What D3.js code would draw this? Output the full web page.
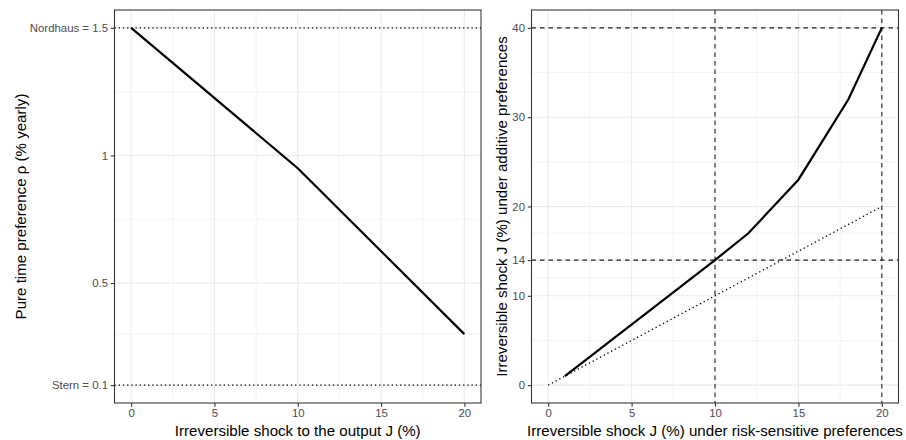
<!DOCTYPE html>
<html>
<head>
<meta charset="utf-8">
<script src="https://cdn.jsdelivr.net/npm/d3@7"></script>
<style>
  html, body { margin: 0; padding: 0; background: #fff; }
  svg { display: block; font-family: "Liberation Sans", Arial, sans-serif; }
</style>
</head>
<body>
<svg id="chart" width="906" height="440"></svg>
<script>
// Left panel: pure time preference vs irreversible shock
const shockJ = [0, 10, 20];
const rhoYearly = [1.5, 0.95, 0.3];
const rhoRefs = [{ v: 1.5, name: "Nordhaus" }, { v: 0.1, name: "Stern" }];
const leftXTicks = [0, 5, 10, 15, 20];
const leftYTicks = [0.1, 0.5, 1, 1.5];
const leftYLabels = ["Stern = 0.1", "0.5", "1", "Nordhaus = 1.5"];
const leftYMinor = [0.3, 0.75, 1.25];

// Right panel: equivalent shock under additive vs risk-sensitive preferences
const riskShock = [1, 10, 12, 15, 18, 20];
const additiveShock = [1, 14, 17, 23, 32, 40];
const diagonal = [0, 20];
const rightVLines = [10, 20];
const rightHLines = [14, 40];
const rightXTicks = [0, 5, 10, 15, 20];
const rightYTicks = [0, 10, 14, 20, 30, 40];
const rightYMinor = [5, 12, 17, 25, 35];
const xMinor = [2.5, 7.5, 12.5, 17.5];

const svg = d3.select("#chart");
const GRID = "#EBEBEB", BORDER = "#333333", TICKTXT = "#4D4D4D";
const TICK_FS = "11.4px", TITLE_FS = "15.1px";

function panel(opts) {
  const { x, y, xTicks, yTicks, yLabels, yMinor, xTitle, yTitle, yTitleX } = opts;
  const [x0, x1] = x.range();
  const [y1, y0] = y.range();
  const g = svg.append("g");

  // grid
  g.selectAll(".gxm").data(xMinor).join("line")
    .attr("x1", d => x(d)).attr("x2", d => x(d)).attr("y1", y0).attr("y2", y1)
    .attr("stroke", GRID).attr("stroke-width", 0.55);
  g.selectAll(".gym").data(yMinor).join("line")
    .attr("y1", d => y(d)).attr("y2", d => y(d)).attr("x1", x0).attr("x2", x1)
    .attr("stroke", GRID).attr("stroke-width", 0.55);
  g.selectAll(".gx").data(xTicks).join("line")
    .attr("x1", d => x(d)).attr("x2", d => x(d)).attr("y1", y0).attr("y2", y1)
    .attr("stroke", GRID).attr("stroke-width", 1.07);
  g.selectAll(".gy").data(yTicks).join("line")
    .attr("y1", d => y(d)).attr("y2", d => y(d)).attr("x1", x0).attr("x2", x1)
    .attr("stroke", GRID).attr("stroke-width", 1.07);

  // axes
  const ax = d3.axisBottom(x).tickValues(xTicks).tickSize(3.7).tickPadding(2.6);
  const ay = d3.axisLeft(y).tickValues(yTicks).tickSize(3.7).tickPadding(2.8)
    .tickFormat((d, i) => yLabels ? yLabels[i] : d);
  const gx = svg.append("g").attr("transform", `translate(0,${y1})`).call(ax);
  const gy = svg.append("g").attr("transform", `translate(${x0},0)`).call(ay);
  [gx, gy].forEach(a => {
    a.select(".domain").remove();
    a.selectAll(".tick line").attr("stroke", BORDER).attr("stroke-width", 1.07);
    a.selectAll(".tick text").attr("fill", TICKTXT).style("font-size", TICK_FS)
      .style("font-family", "Liberation Sans, Arial, sans-serif");
  });

  // titles
  svg.append("text").attr("x", (x0 + x1) / 2).attr("y", 436)
    .attr("text-anchor", "middle").style("font-size", TITLE_FS).attr("fill", "#000")
    .text(xTitle);
  svg.append("text").attr("transform", `translate(${yTitleX},${(y0 + y1) / 2}) rotate(-90)`)
    .attr("text-anchor", "middle").style("font-size", TITLE_FS).attr("fill", "#000")
    .text(yTitle);

  return { g, x0, x1, y0, y1 };
}

// ---- left panel ----
const xL = d3.scaleLinear().domain([-1, 21]).range([114.5, 481]);
const yL = d3.scaleLinear().domain([0.03, 1.57]).range([403, 10]);
const pL = panel({
  x: xL, y: yL, xTicks: leftXTicks, yTicks: leftYTicks, yLabels: leftYLabels,
  yMinor: leftYMinor, xTitle: "Irreversible shock to the output J (%)",
  yTitle: "Pure time preference \u03c1 (% yearly)", yTitleX: 26
});
pL.g.selectAll(".ref").data(rhoRefs).join("line")
  .attr("x1", pL.x0).attr("x2", pL.x1).attr("y1", d => yL(d.v)).attr("y2", d => yL(d.v))
  .attr("stroke", "#000").attr("stroke-width", 1.3).attr("stroke-dasharray", "1.3,2.9");
pL.g.append("path")
  .datum(shockJ.map((j, i) => [j, rhoYearly[i]]))
  .attr("d", d3.line().x(d => xL(d[0])).y(d => yL(d[1])))
  .attr("fill", "none").attr("stroke", "#000").attr("stroke-width", 2.2);
pL.g.append("rect").attr("x", pL.x0).attr("y", pL.y0)
  .attr("width", pL.x1 - pL.x0).attr("height", pL.y1 - pL.y0)
  .attr("fill", "none").attr("stroke", BORDER).attr("stroke-width", 1.07);

// ---- right panel ----
const xR = d3.scaleLinear().domain([-1, 21]).range([531.5, 898.5]);
const yR = d3.scaleLinear().domain([-2, 42]).range([403, 10]);
const pR = panel({
  x: xR, y: yR, xTicks: rightXTicks, yTicks: rightYTicks, yLabels: null,
  yMinor: rightYMinor, xTitle: "Irreversible shock J (%) under risk-sensitive preferences",
  yTitle: "Irreversible shock J (%) under additive preferences", yTitleX: 507
});
pR.g.append("path")
  .datum(diagonal.map(v => [v, v]))
  .attr("d", d3.line().x(d => xR(d[0])).y(d => yR(d[1])))
  .attr("fill", "none").attr("stroke", "#000").attr("stroke-width", 1.3)
  .attr("stroke-dasharray", "1.3,2.9");
pR.g.selectAll(".vl").data(rightVLines).join("line")
  .attr("x1", d => xR(d)).attr("x2", d => xR(d)).attr("y1", pR.y0).attr("y2", pR.y1)
  .attr("stroke", "#222").attr("stroke-width", 1.1).attr("stroke-dasharray", "4.5,4");
pR.g.selectAll(".hl").data(rightHLines).join("line")
  .attr("y1", d => yR(d)).attr("y2", d => yR(d)).attr("x1", pR.x0).attr("x2", pR.x1)
  .attr("stroke", "#222").attr("stroke-width", 1.1).attr("stroke-dasharray", "4.5,4");
pR.g.append("path")
  .datum(riskShock.map((r, i) => [r, additiveShock[i]]))
  .attr("d", d3.line().x(d => xR(d[0])).y(d => yR(d[1])))
  .attr("fill", "none").attr("stroke", "#000").attr("stroke-width", 2.2);
pR.g.append("rect").attr("x", pR.x0).attr("y", pR.y0)
  .attr("width", pR.x1 - pR.x0).attr("height", pR.y1 - pR.y0)
  .attr("fill", "none").attr("stroke", BORDER).attr("stroke-width", 1.07);
</script>
</body>
</html>
